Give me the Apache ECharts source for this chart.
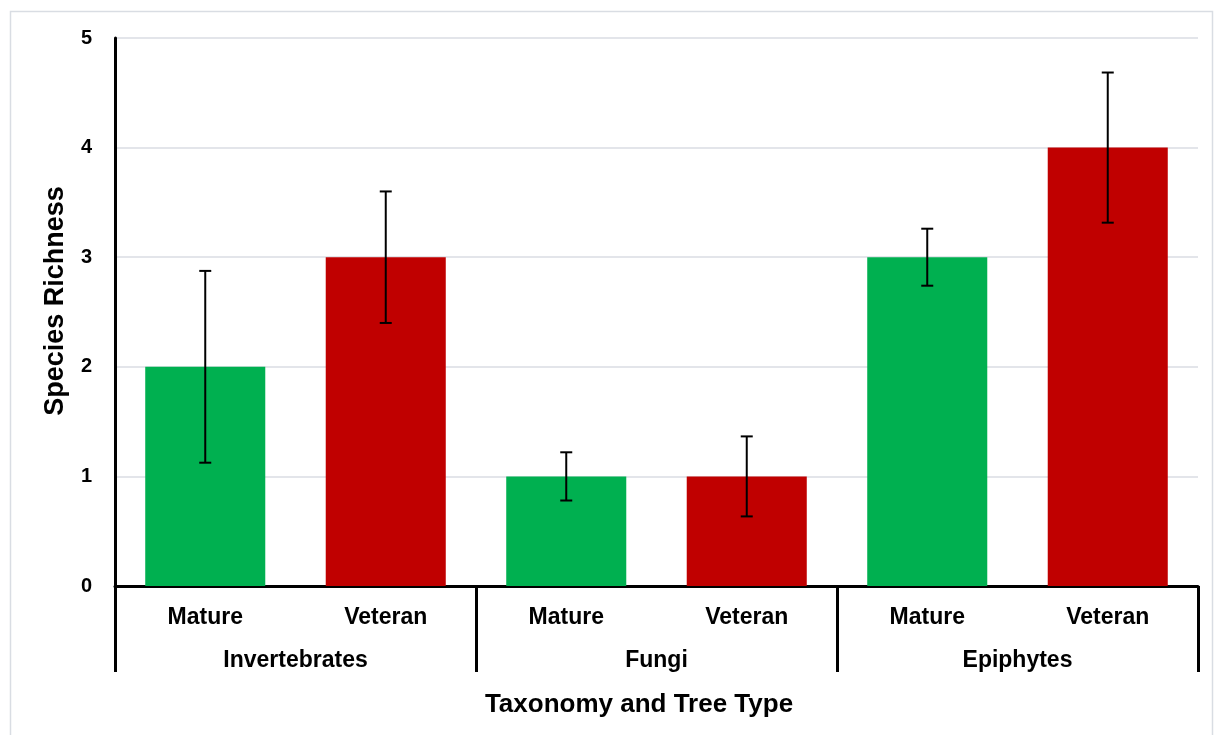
<!DOCTYPE html>
<html>
<head>
<meta charset="utf-8">
<script src="https://cdn.jsdelivr.net/npm/echarts@6/dist/echarts.min.js"></script>
<style>html,body{margin:0;padding:0;background:#fff}#c{width:1216px;height:735px}</style>
</head>
<body>
<div id="c"></div>
<script>
const groups = ['Invertebrates', 'Fungi', 'Epiphytes'];
const treeTypes = ['Mature', 'Veteran'];
const means = [2, 3, 1, 1, 3, 4];
const errors = [0.875, 0.6, 0.22, 0.365, 0.26, 0.685];
const typeColors = ['#00B050', '#C00000'];
const yTicks = [0, 1, 2, 3, 4, 5];

const cats = [];
groups.forEach(g => treeTypes.forEach(t => cats.push(t)));
const barData = means.map((v, i) => ({ value: v, itemStyle: { color: typeColors[i % treeTypes.length] } }));
const errData = means.map((v, i) => [i, v - errors[i], v + errors[i]]);

const font = 'Liberation Sans, Arial, sans-serif';
const chart = echarts.init(document.getElementById('c'), null, { renderer: 'canvas' });
chart.setOption({
  backgroundColor: '#fff',
  animation: false,
  graphic: [{
    type: 'rect', left: 8, top: 9, silent: true,
    shape: { width: 1202, height: 740 },
    style: { fill: 'none', stroke: '#d9dde3', lineWidth: 1.5 }
  }],
  grid: { left: 115, right: 18, top: 38, bottom: 149 },
  xAxis: [{
    type: 'category', data: cats, position: 'bottom',
    axisLine: { show: true, lineStyle: { color: '#000', width: 3 } },
    axisTick: { show: false },
    axisLabel: { fontFamily: font, fontWeight: 'bold', fontSize: 23, color: '#000', margin: 20, interval: 0 },
    splitLine: { show: false }
  }, {
    type: 'category', data: groups, position: 'bottom',
    axisLine: { show: false },
    axisTick: { show: true, length: 86, interval: 0, lineStyle: { color: '#000', width: 3 } },
    axisLabel: { fontFamily: font, fontWeight: 'bold', fontSize: 23, color: '#000', margin: 63, interval: 0 },
    name: 'Taxonomy and Tree Type', nameLocation: 'middle', nameGap: 106,
    nameTextStyle: { fontFamily: font, fontWeight: 'bold', fontSize: 26, color: '#000', padding: [0, 35, 0, 0] }
  }],
  yAxis: {
    type: 'value', min: 0, max: 5, interval: 1,
    axisLine: { show: true, lineStyle: { color: '#000', width: 3 } },
    axisTick: { show: false },
    axisLabel: { fontFamily: font, fontWeight: 'bold', fontSize: 20, color: '#000', margin: 23,
      formatter: v => yTicks.includes(v) ? String(v) : '' },
    splitLine: { show: true, lineStyle: { color: '#e3e5ea', width: 2 } },
    name: 'Species Richness', nameLocation: 'middle', nameGap: 46, nameRotate: 90,
    nameTextStyle: { fontFamily: font, fontWeight: 'bold', fontSize: 27, color: '#000', padding: [0, 0, 0, 22] }
  },
  series: [{
    type: 'bar', xAxisIndex: 0, data: barData, barWidth: '66.5%', z: 2
  }, {
    type: 'custom', xAxisIndex: 0, data: errData, z: 3,
    renderItem: (params, api) => {
      const x = api.value(0);
      const lo = api.coord([x, api.value(1)]);
      const hi = api.coord([x, api.value(2)]);
      const cap = 6;
      const st = { stroke: '#000', lineWidth: 2 };
      return {
        type: 'group', children: [
          { type: 'line', shape: { x1: hi[0], y1: hi[1], x2: lo[0], y2: lo[1] }, style: st },
          { type: 'line', shape: { x1: hi[0] - cap, y1: hi[1], x2: hi[0] + cap, y2: hi[1] }, style: st },
          { type: 'line', shape: { x1: lo[0] - cap, y1: lo[1], x2: lo[0] + cap, y2: lo[1] }, style: st }
        ]
      };
    }
  }]
});
</script>
</body>
</html>
